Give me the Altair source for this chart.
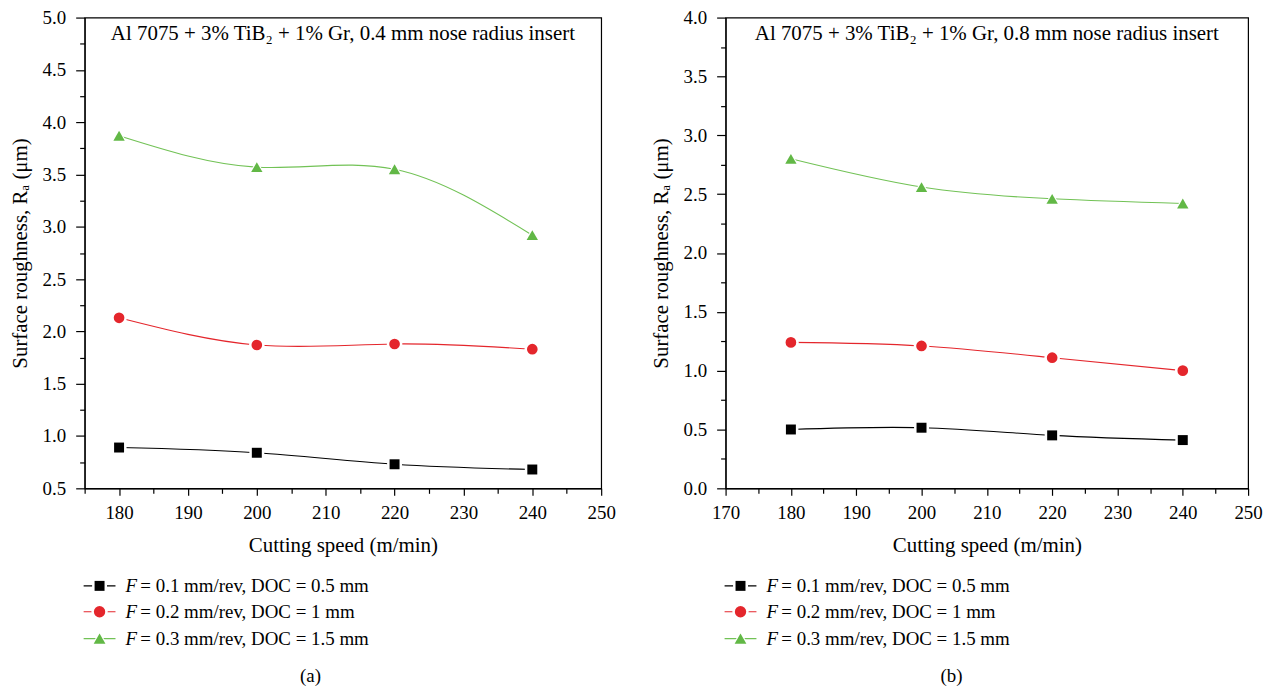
import altair as alt
import pandas as pd

# ---------------- data ----------------
speeds = [180, 200, 220, 240]
series_names = ["F = 0.1 mm/rev, DOC = 0.5 mm",
                "F = 0.2 mm/rev, DOC = 1 mm",
                "F = 0.3 mm/rev, DOC = 1.5 mm"]
legend_rest = ["= 0.1 mm/rev, DOC = 0.5 mm",
               "= 0.2 mm/rev, DOC = 1 mm",
               "= 0.3 mm/rev, DOC = 1.5 mm"]
colors = ["#000000", "#e4262c", "#62b846"]
line_colors = ["#000000", "#e4262c", "#72c256"]
shapes = ["square", "circle", "triangle-up"]
sizes = [100, 130, 140]

# panel (a): 0.4 mm nose radius
ra_a_01 = [0.89, 0.84, 0.73, 0.68]
ra_a_02 = [2.13, 1.87, 1.88, 1.83]
ra_a_03 = [3.87, 3.57, 3.55, 2.92]
# panel (b): 0.8 mm nose radius
ra_b_01 = [0.50, 0.515, 0.45, 0.41]
ra_b_02 = [1.24, 1.21, 1.11, 1.00]
ra_b_03 = [2.80, 2.56, 2.46, 2.42]

titles = ["Al 7075 + 3% TiB\u2082 + 1% Gr, 0.4 mm nose radius insert",
          "Al 7075 + 3% TiB\u2082 + 1% Gr, 0.8 mm nose radius insert"]
captions = ["(a)", "(b)"]

x_ticks_a = [175, 180, 185, 190, 195, 200, 205, 210, 215, 220, 225, 230, 235, 240, 245, 250]
x_ticks_b = [170] + x_ticks_a
y_ticks_a = [0.5, 0.75, 1.0, 1.25, 1.5, 1.75, 2.0, 2.25, 2.5, 2.75, 3.0, 3.25,
             3.5, 3.75, 4.0, 4.25, 4.5, 4.75, 5.0]
y_ticks_b = [0.0, 0.25, 0.5, 0.75, 1.0, 1.25, 1.5, 1.75, 2.0, 2.25, 2.5, 2.75,
             3.0, 3.25, 3.5, 3.75, 4.0]

FONT = "Liberation Serif"
TICK_FS = 19
TITLE_FS = 21
LEG_FS = 19
HALO = 5


def panel(series_vals, x_domain, y_domain, x_ticks, y_ticks, title_text, caption,
          width, height):
    rows = []
    for name, vals in zip(series_names, series_vals):
        for s, v in zip(speeds, vals):
            rows.append({"speed": s, "ra": v, "series": name})
    df = pd.DataFrame(rows)

    x_axis = alt.Axis(
        values=x_ticks, title="Cutting speed (m/min)",
        labelExpr="datum.value % 10 == 0 ? datum.label : ''",
        tickSize={"condition": {"test": "datum.value % 10 == 0", "value": 7}, "value": 5},
        labelPadding=8, titlePadding=12, labelOverlap=False, labelFlush=False,
    )
    y_axis = alt.Axis(
        values=y_ticks, title="Surface roughness, R\u2090 (\u03bcm)",
        labelExpr="abs(datum.value*2 - round(datum.value*2)) < 0.001 ? format(datum.value, '.1f') : ''",
        tickSize={"condition": {"test": "abs(datum.value*2 - round(datum.value*2)) < 0.001",
                                "value": 9}, "value": 5},
        labelPadding=10, titlePadding=12, labelOverlap=False, labelFlush=False,
    )
    base = alt.Chart(df).encode(
        x=alt.X("speed:Q", scale=alt.Scale(domain=x_domain, nice=False, zero=False), axis=x_axis),
        y=alt.Y("ra:Q", scale=alt.Scale(domain=y_domain, nice=False, zero=False), axis=y_axis),
    )
    color = alt.Color("series:N", scale=alt.Scale(domain=series_names, range=colors), legend=None)
    lcolor = alt.Color("series:N", scale=alt.Scale(domain=series_names, range=line_colors), legend=None)
    shape = alt.Shape("series:N", scale=alt.Scale(domain=series_names, range=shapes), legend=None)
    lines = base.mark_line(interpolate="natural", strokeWidth=1.1).encode(color=lcolor)
    halo = base.mark_point(filled=True, opacity=1, color="white").encode(
        shape=shape,
        size=alt.Size("series:O", scale=alt.Scale(domain=series_names,
                                                  range=[(s ** 0.5 + HALO) ** 2 for s in sizes]),
                      legend=None))
    pts = base.mark_point(filled=True, opacity=1, strokeWidth=0).encode(
        color=color, shape=shape,
        size=alt.Size("series:O", scale=alt.Scale(domain=series_names, range=sizes), legend=None))

    layers = [alt.layer(lines, halo, pts).resolve_scale(size="independent", color="independent")]

    # in-plot title and caption
    layers.append(alt.Chart(pd.DataFrame({"t": [title_text]})).mark_text(
        font=FONT, fontSize=21, color="black", baseline="middle", align="center"
    ).encode(text="t:N", x=alt.value(width / 2), y=alt.value(17)))
    layers.append(alt.Chart(pd.DataFrame({"t": [caption]})).mark_text(
        font=FONT, fontSize=19, color="black", baseline="middle", align="center"
    ).encode(text="t:N", x=alt.value(227), y=alt.value(662)))

    # custom legend
    leg_y = [571, 597, 624]
    for i in range(3):
        ldf = pd.DataFrame({"label": [legend_rest[i]], "f": ["F"]})
        c = alt.Chart(ldf)
        layers.append(c.mark_rule(color=line_colors[i], strokeWidth=1.2).encode(
            x=alt.value(-1), x2=alt.value(31), y=alt.value(leg_y[i])))
        layers.append(c.mark_point(filled=True, opacity=1, color="white", shape=shapes[i],
                                   size=(sizes[i] ** 0.5 + HALO) ** 2).encode(
            x=alt.value(15), y=alt.value(leg_y[i])))
        layers.append(c.mark_point(filled=True, opacity=1, color=colors[i], shape=shapes[i],
                                   strokeWidth=0, size=sizes[i]).encode(
            x=alt.value(15), y=alt.value(leg_y[i])))
        layers.append(c.mark_text(font=FONT, fontSize=LEG_FS, fontStyle="italic", color="black",
                                  align="left", baseline="middle").encode(
            text="f:N", x=alt.value(41), y=alt.value(leg_y[i])))
        layers.append(c.mark_text(font=FONT, fontSize=LEG_FS, color="black",
                                  align="left", baseline="middle").encode(
            text="label:N", x=alt.value(56), y=alt.value(leg_y[i])))

    return alt.layer(*layers).properties(width=width, height=height)


left = panel([ra_a_01, ra_a_02, ra_a_03], [175, 250], [0.5, 5.0], x_ticks_a, y_ticks_a,
             titles[0], captions[0], 519, 473)
right = panel([ra_b_01, ra_b_02, ra_b_03], [170, 250], [0.0, 4.0], x_ticks_b, y_ticks_b,
              titles[1], captions[1], 525, 473)

chart = alt.hconcat(left, right, spacing=33).properties(
    padding={"left": 0, "top": -2, "right": 5, "bottom": 0}
).configure_view(stroke="black", strokeWidth=1.2).configure_axis(
    grid=False, domainColor="black", domainWidth=1.2, tickColor="black", tickWidth=1.2,
    labelColor="black", titleColor="black", labelFont=FONT, titleFont=FONT,
    labelFontSize=TICK_FS, titleFontSize=TITLE_FS, titleFontWeight="normal",
).configure_text(font=FONT)

chart.save("out.html", embed_options={"renderer": "svg", "actions": False})
